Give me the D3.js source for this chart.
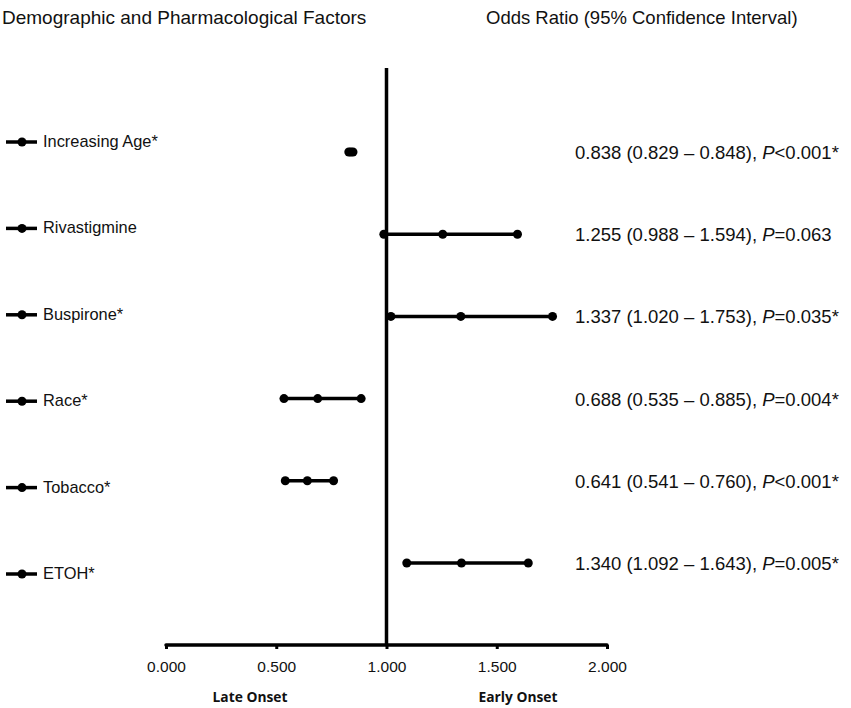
<!DOCTYPE html>
<html>
<head>
<meta charset="utf-8">
<script src="https://cdn.jsdelivr.net/npm/d3@7"></script>
<style>
  body { margin: 0; background: #fff; }
  text { font-family: "Liberation Sans", Arial, sans-serif; fill: #111; }
</style>
</head>
<body>
<script>
// Chart data
var factors = ["Increasing Age*", "Rivastigmine", "Buspirone*", "Race*", "Tobacco*", "ETOH*"];
var oddsRatio = [0.838, 1.255, 1.337, 0.688, 0.641, 1.340];
var ciLow = [0.829, 0.988, 1.020, 0.535, 0.541, 1.092];
var ciHigh = [0.848, 1.594, 1.753, 0.885, 0.760, 1.643];
var pSign = ["<", "=", "=", "=", "<", "="];
var pValue = ["0.001*", "0.063", "0.035*", "0.004*", "0.001*", "0.005*"];
var tickValues = [0, 0.5, 1, 1.5, 2];

var w = 851, h = 708;

var svg = d3.select("body").append("svg")
    .attr("width", w)
    .attr("height", h);

var x = d3.scaleLinear().domain([0, 2]).range([166, 607]);
var yRow = d3.scalePoint().domain(factors).range([152, 563]);   // plotted rows
var yKey = d3.scalePoint().domain(factors).range([142, 574]);   // left labels

var rows = factors.map(function(f, i) {
    return { name: f, or: oddsRatio[i], lo: ciLow[i], hi: ciHigh[i], sign: pSign[i], p: pValue[i] };
});

// headers
svg.append("text").attr("x", 2).attr("y", 24)
    .attr("font-size", "19px").text("Demographic and Pharmacological Factors");
svg.append("text").attr("x", 486).attr("y", 24)
    .attr("font-size", "18.5px").text("Odds Ratio (95% Confidence Interval)");

// x axis
var axisY = 645;
var axis = svg.append("g").attr("transform", "translate(0," + axisY + ")")
    .call(d3.axisBottom(x).tickValues(tickValues).tickFormat(d3.format(".3f")).tickSize(4).tickPadding(12));
axis.select(".domain").remove();
axis.selectAll(".tick line").attr("stroke", "#000").attr("stroke-width", 3);
axis.selectAll(".tick text").attr("font-size", "15.5px")
    .attr("font-family", "Liberation Sans, Arial, sans-serif").attr("fill", "#111");
axis.append("line")
    .attr("x1", x(0)).attr("x2", x(2))
    .attr("stroke", "#000").attr("stroke-width", 3.5).attr("stroke-linecap", "round");

// reference line at 1
svg.append("line")
    .attr("x1", x(1)).attr("x2", x(1))
    .attr("y1", 68).attr("y2", axisY)
    .attr("stroke", "#000").attr("stroke-width", 3.5);

// onset labels
svg.append("text").attr("x", 250).attr("y", 702).attr("text-anchor", "middle")
    .attr("font-size", "13.8px").attr("font-weight", "bold")
    .style("font-family", "'Open Sans', sans-serif").text("Late Onset");
svg.append("text").attr("x", 518).attr("y", 702).attr("text-anchor", "middle")
    .attr("font-size", "13.8px").attr("font-weight", "bold")
    .style("font-family", "'Open Sans', sans-serif").text("Early Onset");

// confidence intervals
var g = svg.selectAll(".row").data(rows).enter().append("g").attr("class", "row");

g.append("line")
    .attr("x1", function(d) { return x(d.lo); })
    .attr("x2", function(d) { return x(d.hi); })
    .attr("y1", function(d) { return yRow(d.name); })
    .attr("y2", function(d) { return yRow(d.name); })
    .attr("stroke", "#000").attr("stroke-width", 3.5);

g.selectAll("circle")
    .data(function(d) { return [d.lo, d.or, d.hi].map(function(v) { return { v: v, y: yRow(d.name) }; }); })
    .enter().append("circle")
    .attr("cx", function(d) { return x(d.v); })
    .attr("cy", function(d) { return d.y; })
    .attr("r", 4.5)
    .attr("fill", "#000");

// left key labels
var key = svg.selectAll(".key").data(rows).enter().append("g").attr("class", "key")
    .attr("transform", function(d) { return "translate(0," + yKey(d.name) + ")"; });
key.append("line").attr("x1", 6).attr("x2", 37)
    .attr("stroke", "#000").attr("stroke-width", 3.5);
key.append("circle").attr("cx", 22).attr("r", 4.5).attr("fill", "#000");
key.append("text").attr("x", 43).attr("y", 5)
    .attr("font-size", "16.4px").text(function(d) { return d.name; });

// right-hand values
var vals = svg.selectAll(".val").data(rows).enter().append("text").attr("class", "val")
    .attr("x", 575)
    .attr("y", function(d) { return yRow(d.name) + 7; })
    .attr("font-size", "18.5px");
vals.append("tspan").text(function(d) {
    return d3.format(".3f")(d.or) + " (" + d3.format(".3f")(d.lo) + " \u2013 " + d3.format(".3f")(d.hi) + "), ";
});
vals.append("tspan").attr("font-style", "italic").text("P");
vals.append("tspan").text(function(d) { return d.sign + d.p; });
</script>
</body>
</html>
